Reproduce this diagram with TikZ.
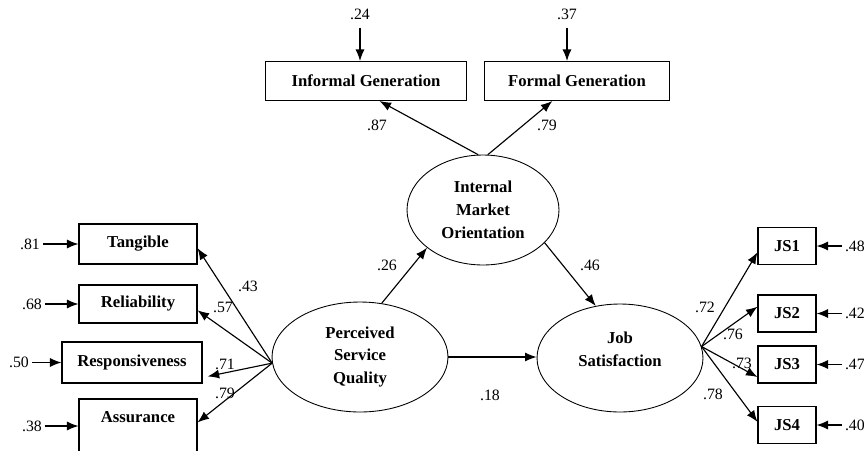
\documentclass[tikz,border=0pt]{standalone}
\usepackage{fontspec}
\setmainfont{Liberation Serif}
\usetikzlibrary{
	arrows.meta,
	positioning,
	shapes.geometric
}

\begin{document}
\begin{tikzpicture}[
		x=0.02cm, y=-0.02cm,
		>={Latex[length=2.3mm,width=1.8mm]},
		obs/.style={
			draw,
			line width=0.6pt,
			inner sep=0pt,
			minimum height=0.78cm,
			font=\fontsize{9.5}{12}\selectfont\bfseries
		},
		lat/.style={
			ellipse,
			draw,
			line width=0.5pt,
			inner sep=0pt,
			align=center,
			font=\fontsize{9.5}{13}\selectfont\bfseries
		},
		coef/.style={
			inner sep=1.5pt,
			font=\fontsize{9}{11}\selectfont
		},
		link/.style={
			->,
			line width=0.65pt
		}
		]
		\useasboundingbox (0,0) rectangle (864,450);
		\clip (0,0) rectangle (864,450);
		
		% Latent variables
		\node[lat, minimum width=3.04cm, minimum height=2.2cm] (imo) at (483,210) {Internal\\Market\\Orientation};
		\node[lat, minimum width=3.52cm, minimum height=2.2cm] (psq) at (360,357) {Perceived\\Service\\Quality};
		\node[lat, minimum width=3.32cm, minimum height=2.16cm] (js) at (620,358) {Job\\Satisfaction\rule[-10pt]{0pt}{0pt}};
		
		% Generation
		\node[obs, minimum width=4.02cm] (infgen) at (366,81) {Informal Generation};
		\node[obs, minimum width=3.7cm] (formgen) at (577,81) {Formal Generation};
		\node[coef] (einf) at (360,14) {.24};
		\node[coef] (eform) at (567,14) {.37};
		\draw[link, shorten <=3pt] (einf) -- (einf |- infgen.north);
		\draw[link, shorten <=3pt] (eform) -- (eform |- formgen.north);
		\draw[link] (imo.95) -- (infgen.-56);
		\draw[link] (imo.85) -- (formgen.-141);
		\node[coef] at (377,125) {.87};
		\node[coef] at (547,125) {.79};
		
		% Service quality
		\node[obs, minimum width=2.36cm, minimum height=0.8cm] (tang) at (138,244) {Tangible};
		\node[obs, minimum width=2.36cm, minimum height=0.76cm] (rel) at (138,304) {Reliability};
		\node[obs, minimum width=2.8cm, minimum height=0.82cm] (resp) at (132,362.5) {Responsiveness};
		\node[obs, minimum width=2.36cm, minimum height=1.4cm, text depth=0.68cm] (assur) at (138,434) {Assurance};
		\node[coef] (etang) at (30,244) {.81};
		\node[coef] (erel) at (32,304) {.68};
		\node[coef] (eresp) at (19,362.5) {.50};
		\node[coef] (eassur) at (32,426) {.38};
		\draw[link] (etang) -- (tang);
		\draw[link] (erel) -- (rel);
		\draw[link] (eresp) -- (resp);
		\draw[link] (eassur) -- (eassur -| assur.west);
		\draw[link] (psq.184) -- (tang.-4);
		\draw[link] (psq.184) -- (rel.-6);
		\draw[link, shorten >=3pt] (psq.184) -- (resp.-12);
		\draw[link] (psq.184) -- (assur.11);
		\node[coef] at (248,286) {.43};
		\node[coef] at (223,307) {.57};
		\node[coef] at (225,364) {.71};
		\node[coef] at (225,393) {.79};
		
		% Structural paths
		\draw[link] (psq.68) -- (imo.214);
		\draw[link] (imo.-28) -- (js.115);
		\draw[link] (psq.east) -- (psq.east -| js.west);
		\node[coef] at (387,265) {.26};
		\node[coef] at (590,265) {.46};
		\node[coef] at (490,395) {.18};
		
		% Job satisfaction
		\foreach \i/\y/\err in {1/246/.48, 2/313.5/.42, 3/364.5/.47, 4/425/.40}{
			\node[obs, minimum width=1.16cm, minimum height=0.74cm] (js\i) at (787,\y) {JS\i};
			\node[coef, anchor=west] (ejs\i) at (842,\y) {\err};
			\draw[link] (ejs\i) -- (js\i);
		}
		\foreach \i/\a in {1/192, 2/167, 3/203, 4/174}
		\draw[link] (js.8) -- (js\i.\a);
		\node[coef] at (705,307) {.72};
		\node[coef] at (733,334) {.76};
		\node[coef] at (742,363) {.73};
		\node[coef] at (713,394) {.78};
		
	\end{tikzpicture}
\end{document}
